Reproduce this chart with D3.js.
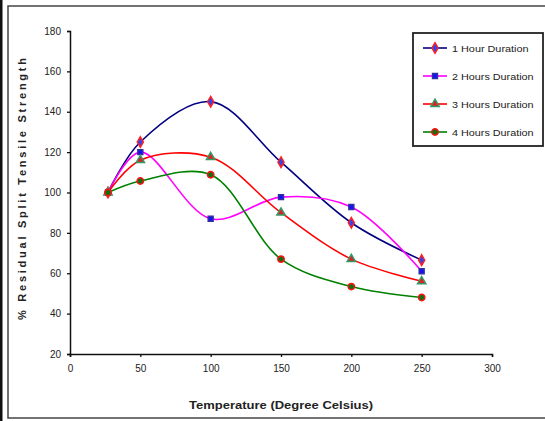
<!DOCTYPE html>
<html>
<head>
<meta charset="utf-8">
<script src="https://cdn.jsdelivr.net/npm/d3@7"></script>
<style>
  body { margin: 0; background: #fff; }
  text { font-family: Arial, "Liberation Sans", sans-serif; fill: #222; }
</style>
</head>
<body>
<div class="canvas"></div>
<script>
// data
const temps = [27, 50, 100, 150, 200, 250];
const series1 = [100, 125, 145, 115, 85, 66.5];
const series2 = [100, 120, 87, 97.7, 92.8, 61];
const series3 = [100, 116, 117.5, 90, 67, 56];
const series4 = [100, 105.7, 108.8, 67, 53.4, 48];
const seriesNames = ["1 Hour Duration", "2 Hours Duration", "3 Hours Duration", "4 Hours Duration"];
const xTicks = [0, 50, 100, 150, 200, 250, 300];
const yTicks = [20, 40, 60, 80, 100, 120, 140, 160, 180];

const dims = { width: 545, height: 421 };

const svg = d3
    .select(".canvas")
    .append("svg")
    .attr("width", dims.width)
    .attr("height", dims.height);

// outer frames
svg.append("rect").attr("x", 0).attr("y", 0).attr("width", 2.5).attr("height", dims.height).attr("fill", "#111");
svg.append("rect")
    .attr("x", 8).attr("y", 6).attr("width", 545).attr("height", 412)
    .attr("fill", "none").attr("stroke", "#444").attr("stroke-width", 1.5);

const x = d3.scaleLinear().domain([0, 300]).range([70, 492]);
const y = d3.scaleLinear().domain([20, 180]).range([354, 31]);

// axes
const xAxis = svg.append("g")
    .attr("transform", `translate(0,${y(20)})`)
    .call(d3.axisBottom(x).tickValues(xTicks).tickSize(3).tickPadding(8));
const yAxis = svg.append("g")
    .attr("transform", `translate(${x(0)},0)`)
    .call(d3.axisLeft(y).tickValues(yTicks).tickSize(3).tickPadding(6));

[xAxis, yAxis].forEach((g) => {
    g.select(".domain").attr("stroke", "#111").attr("stroke-width", 1.5);
    g.selectAll(".tick line").attr("stroke", "#111").attr("stroke-width", 1.3);
    g.selectAll(".tick text").attr("font-size", 10).attr("fill", "#333");
});

// axis titles
svg.append("text")
    .attr("x", 281).attr("y", 409)
    .attr("text-anchor", "middle")
    .attr("font-size", 11).attr("font-weight", "bold")
    .attr("textLength", 184).attr("lengthAdjust", "spacingAndGlyphs")
    .text("Temperature (Degree Celsius)");

svg.append("text")
    .attr("transform", "translate(26,189) rotate(-90)")
    .attr("text-anchor", "middle")
    .attr("font-size", 11).attr("font-weight", "bold")
    .attr("textLength", 262).attr("lengthAdjust", "spacing")
    .text("% Residual Split Tensile Strength");

const styles = [
    { line: "#000080", fill: "#3344ee", stroke: "#ff2020", shape: d3.symbolDiamond, size: 32 },
    { line: "#ff00ff", fill: "#1010ff", stroke: "#3030a0", shape: d3.symbolSquare, size: 24 },
    { line: "#ff0000", fill: "#e02020", stroke: "#339966", shape: d3.symbolTriangle, size: 30 },
    { line: "#008000", fill: "#107010", stroke: "#ff1010", shape: d3.symbolCircle, size: 32 }
];
const allSeries = [series1, series2, series3, series4];

const line = d3.line()
    .x((d, i) => x(temps[i]))
    .y((d) => y(d))
    .curve(d3.curveCatmullRom.alpha(0.5));

const plot = svg.append("g");

allSeries.forEach((vals, s) => {
    plot.append("path")
        .attr("d", line(vals))
        .attr("fill", "none")
        .attr("stroke", styles[s].line)
        .attr("stroke-width", 1.6);
});

allSeries.forEach((vals, s) => {
    plot.selectAll(null)
        .data(vals)
        .enter()
        .append("path")
        .attr("d", d3.symbol().type(styles[s].shape).size(styles[s].size))
        .attr("transform", (d, i) => `translate(${x(temps[i])},${y(d)})`)
        .attr("fill", styles[s].fill)
        .attr("stroke", styles[s].stroke)
        .attr("stroke-width", 1.5);
});

// legend
const legend = svg.append("g");
legend.append("rect")
    .attr("x", 413).attr("y", 33).attr("width", 130).attr("height", 113)
    .attr("fill", "#fff").attr("stroke", "#222").attr("stroke-width", 1.8);

const items = legend.selectAll("g.item")
    .data(seriesNames)
    .enter()
    .append("g")
    .attr("class", "item")
    .attr("transform", (d, i) => `translate(0,${48 + i * 28})`);

items.append("line")
    .attr("x1", 423).attr("x2", 447).attr("y1", 0).attr("y2", 0)
    .attr("stroke", (d, i) => styles[i].line).attr("stroke-width", 1.6);
items.append("path")
    .attr("d", (d, i) => d3.symbol().type(styles[i].shape).size(styles[i].size)())
    .attr("transform", "translate(435,0)")
    .attr("fill", (d, i) => styles[i].fill)
    .attr("stroke", (d, i) => styles[i].stroke)
    .attr("stroke-width", 1.5);
items.append("text")
    .attr("x", 452).attr("y", 3.5)
    .attr("font-size", 9.5)
    .attr("textLength", (d) => d.length * 5.1).attr("lengthAdjust", "spacingAndGlyphs")
    .text((d) => d);
</script>
</body>
</html>
